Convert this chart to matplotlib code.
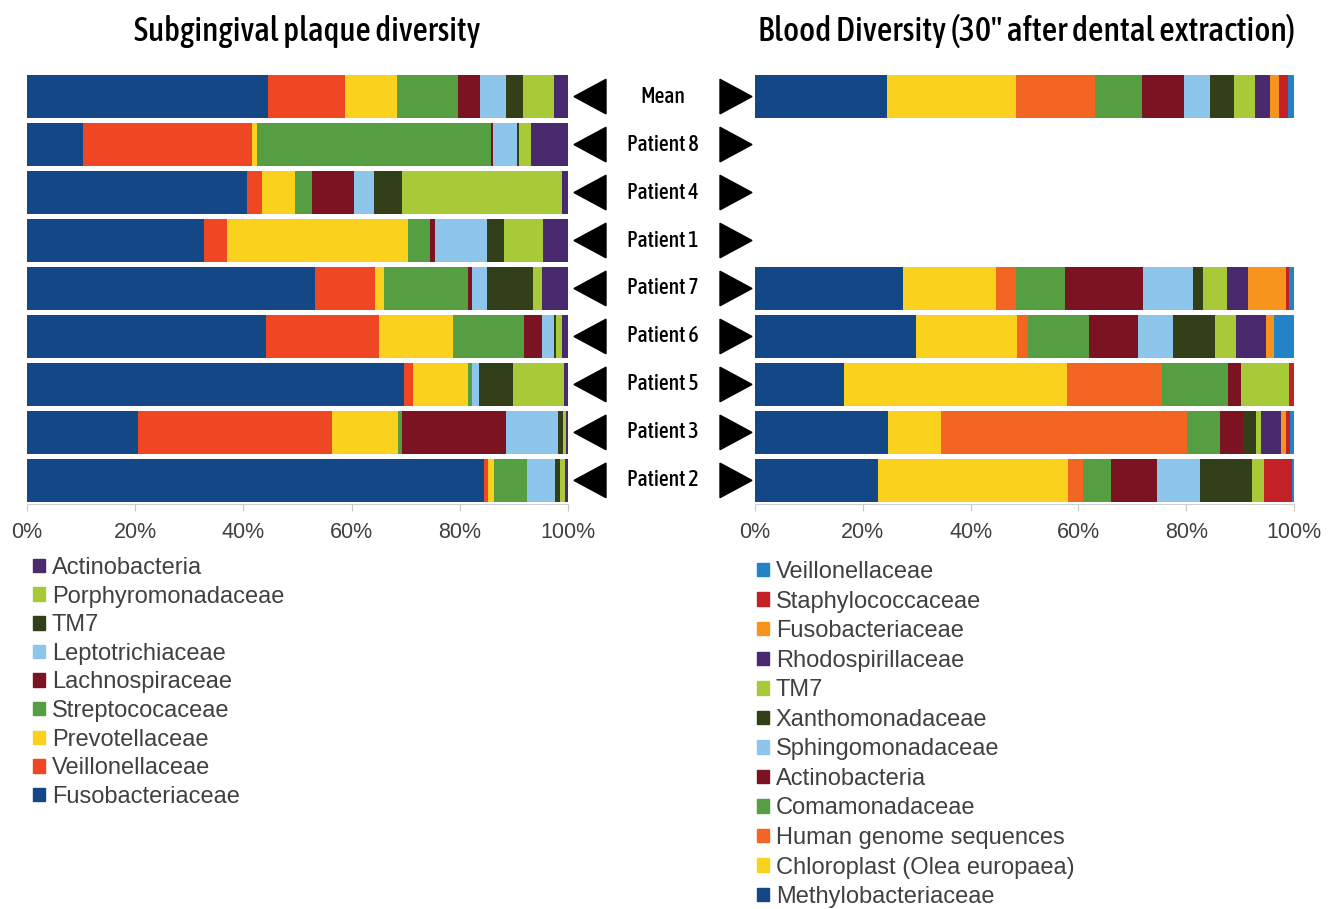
import numpy as np
import matplotlib
matplotlib.use('Agg')
import matplotlib.pyplot as plt
from matplotlib.patches import Polygon, Patch
from matplotlib import font_manager

plt.rcParams['font.family'] = ['Liberation Sans', 'DejaVu Sans']

rows = ['Mean', 'Patient 8', 'Patient 4', 'Patient 1', 'Patient 7',
        'Patient 6', 'Patient 5', 'Patient 3', 'Patient 2']

# subgingival plaque (%), one list per family, rows in the order above
plaque_names = ['Fusobacteriaceae', 'Veillonellaceae', 'Prevotellaceae', 'Streptococaceae',
                'Lachnospiraceae', 'Leptotrichiaceae', 'TM7', 'Porphyromonadaceae', 'Actinobacteria']
plaque_colors = ['#134785', '#ef4723', '#fad21e', '#569e42', '#7c1322',
                 '#8dc6ea', '#323f18', '#a8c938', '#4a2a6e']
fusobacteriaceae = [44.6, 10.4, 40.7, 32.7, 53.3, 44.2, 69.7, 20.5, 84.5]
veillonellaceae = [14.1, 31.1, 2.7, 4.3, 11.0, 20.8, 1.7, 35.8, 0.8]
prevotellaceae = [9.7, 1.0, 6.2, 33.5, 1.7, 13.7, 10.2, 12.2, 1.1]
streptococaceae = [11.3, 43.2, 3.1, 3.9, 15.5, 13.1, 0.6, 0.9, 6.0]
lachnospiraceae = [4.1, 0.5, 7.8, 1.1, 0.8, 3.4, 0.0, 19.2, 0.1]
leptotrichiaceae = [4.8, 4.3, 3.7, 9.6, 2.8, 2.2, 1.4, 9.6, 5.1]
tm7_plaque = [3.1, 0.5, 5.2, 3.1, 8.5, 0.4, 6.2, 0.9, 0.9]
porphyromonadaceae = [5.8, 2.2, 29.5, 7.2, 1.6, 1.1, 9.5, 0.5, 1.0]
actinobacteria_plaque = [2.5, 6.8, 1.1, 4.6, 4.8, 1.1, 0.7, 0.4, 0.5]
plaque = [fusobacteriaceae, veillonellaceae, prevotellaceae, streptococaceae, lachnospiraceae,
          leptotrichiaceae, tm7_plaque, porphyromonadaceae, actinobacteria_plaque]

# blood 30" after extraction (%), patients 8, 4, 1 have no data
blood_names = ['Methylobacteriaceae', 'Chloroplast (Olea europaea)', 'Human genome sequences',
               'Comamonadaceae', 'Actinobacteria', 'Sphingomonadaceae', 'Xanthomonadaceae',
               'TM7', 'Rhodospirillaceae', 'Fusobacteriaceae', 'Staphylococcaceae', 'Veillonellaceae']
blood_colors = ['#134785', '#fad21e', '#f26522', '#569e42', '#7c1322', '#8dc6ea',
                '#323f18', '#a8c938', '#4a2a6e', '#f7941d', '#c42127', '#2383c6']
na = np.nan
methylobacteriaceae = [24.5, na, na, na, 27.4, 29.9, 16.6, 24.7, 22.9]
chloroplast = [23.9, na, na, na, 17.3, 18.8, 41.3, 9.9, 35.1]
human_genome = [14.6, na, na, na, 3.7, 1.9, 17.6, 45.5, 2.8]
comamonadaceae = [8.8, na, na, na, 9.2, 11.4, 12.3, 6.2, 5.3]
actinobacteria_blood = [7.8, na, na, na, 14.3, 9.1, 2.4, 4.3, 8.5]
sphingomonadaceae = [4.9, na, na, na, 9.4, 6.5, 0.0, 0.0, 7.9]
xanthomonadaceae = [4.4, na, na, na, 1.8, 7.7, 0.0, 2.3, 9.7]
tm7_blood = [3.8, na, na, na, 4.5, 3.9, 8.9, 1.0, 2.3]
rhodospirillaceae = [2.9, na, na, na, 3.9, 5.6, 0.0, 3.7, 0.0]
fusobacteriaceae_blood = [1.6, na, na, na, 7.0, 1.4, 0.0, 0.9, 0.0]
staphylococcaceae = [1.6, na, na, na, 0.6, 0.0, 0.9, 0.8, 5.2]
veillonellaceae_blood = [1.2, na, na, na, 0.9, 3.8, 0.0, 0.7, 0.3]
blood = [methylobacteriaceae, chloroplast, human_genome, comamonadaceae, actinobacteria_blood,
         sphingomonadaceae, xanthomonadaceae, tm7_blood, rhodospirillaceae,
         fusobacteriaceae_blood, staphylococcaceae, veillonellaceae_blood]


# pick an upright narrow/condensed face for titles and row labels
def weight_rank(w):
    order = {500: 0, 'medium': 0, 'normal': 1, 400: 1, 'regular': 1, 'book': 1,
             600: 2, 'semibold': 2, 700: 3, 'bold': 3}
    return order.get(w, 4)


cands = [f for f in font_manager.fontManager.ttflist
         if f.style == 'normal' and ('Narrow' in f.name or 'Condensed' in f.name
                                      or f.stretch in ('condensed', 'semi-condensed'))]
cands.sort(key=lambda f: weight_rank(f.weight))
if cands:
    narrow = font_manager.FontProperties(fname=cands[0].fname)
else:
    narrow = font_manager.FontProperties(family=['Liberation Sans', 'DejaVu Sans'])

W, H = 1333, 909
fig = plt.figure(figsize=(W / 100, H / 100), dpi=100)
renderer = fig.canvas.get_renderer()
grey = '#404040'


def fit_width(t, target):
    # scale a text's size so its rendered width is close to the reference
    w = t.get_window_extent(renderer).width
    t.set_fontsize(t.get_fontsize() * target / w)


y = np.arange(len(rows))[::-1]  # Mean on top
top_px, bot_px = 72.6, 504.4


def px_axes(x0, x1):
    return fig.add_axes([x0 / W, 1 - bot_px / H, (x1 - x0) / W, (bot_px - top_px) / H])


def stacked(ax, series, colors):
    left = np.zeros(len(rows))
    for vals, c in zip(series, colors):
        v = np.array(vals, dtype=float)
        ax.barh(y, v, left=left, height=0.9, color=c, edgecolor='none')
        left = left + np.nan_to_num(v)
    ax.set_xlim(0, 100)
    ax.set_ylim(-0.5, len(rows) - 0.5)
    ax.set_xticks(np.arange(0, 101, 20))
    ax.set_xticklabels([f'{t}%' for t in range(0, 101, 20)])
    ax.set_yticks([])
    for s in ['top', 'right', 'left']:
        ax.spines[s].set_visible(False)
    ax.spines['bottom'].set_color('#d0d0d0')
    ax.tick_params(axis='x', colors='#c8c8c8', length=5, labelsize=15.5, labelcolor=grey, pad=8)


ax1 = px_axes(27, 568)
stacked(ax1, plaque, plaque_colors)
ax2 = px_axes(755, 1294)
stacked(ax2, blood, blood_colors)

# middle column: labels and arrows
axm = px_axes(568, 755)
axm.set_xlim(568, 755)
axm.set_ylim(-0.5, len(rows) - 0.5)
axm.axis('off')
probe = axm.text(0, 0, 'Patient 8', fontproperties=narrow, fontsize=16)
fit_width(probe, 72)
label_size = probe.get_fontsize()
probe.remove()
for yi, name in zip(y, rows):
    axm.add_patch(Polygon([[574, yi], [606, yi + 0.36], [606, yi - 0.36]], color='black'))
    axm.add_patch(Polygon([[752, yi], [720, yi + 0.36], [720, yi - 0.36]], color='black'))
    axm.text(663, yi, name, ha='center', va='center', fontproperties=narrow, fontsize=label_size)

t1 = fig.text(307 / W, 1 - 31 / H, 'Subgingival plaque diversity', ha='center', va='center',
              fontproperties=narrow, fontsize=22)
fit_width(t1, 345)
t2 = fig.text(1027 / W, 1 - 31 / H, 'Blood Diversity (30" after dental extraction)', ha='center',
              va='center', fontproperties=narrow, fontsize=22)
fit_width(t2, 535)

h1 = [Patch(color=c) for c in plaque_colors][::-1]
fig.legend(h1, plaque_names[::-1], loc='upper left', bbox_to_anchor=(33 / W, 1 - 557 / H),
           frameon=False, fontsize=17, labelcolor=grey, handlelength=0.5, handleheight=0.5,
           handletextpad=0.3, labelspacing=0.28, borderaxespad=0, borderpad=0)
h2 = [Patch(color=c) for c in blood_colors][::-1]
fig.legend(h2, blood_names[::-1], loc='upper left', bbox_to_anchor=(757 / W, 1 - 561 / H),
           frameon=False, fontsize=17, labelcolor=grey, handlelength=0.5, handleheight=0.5,
           handletextpad=0.3, labelspacing=0.32, borderaxespad=0, borderpad=0)

fig.savefig('out.png', dpi=100)
